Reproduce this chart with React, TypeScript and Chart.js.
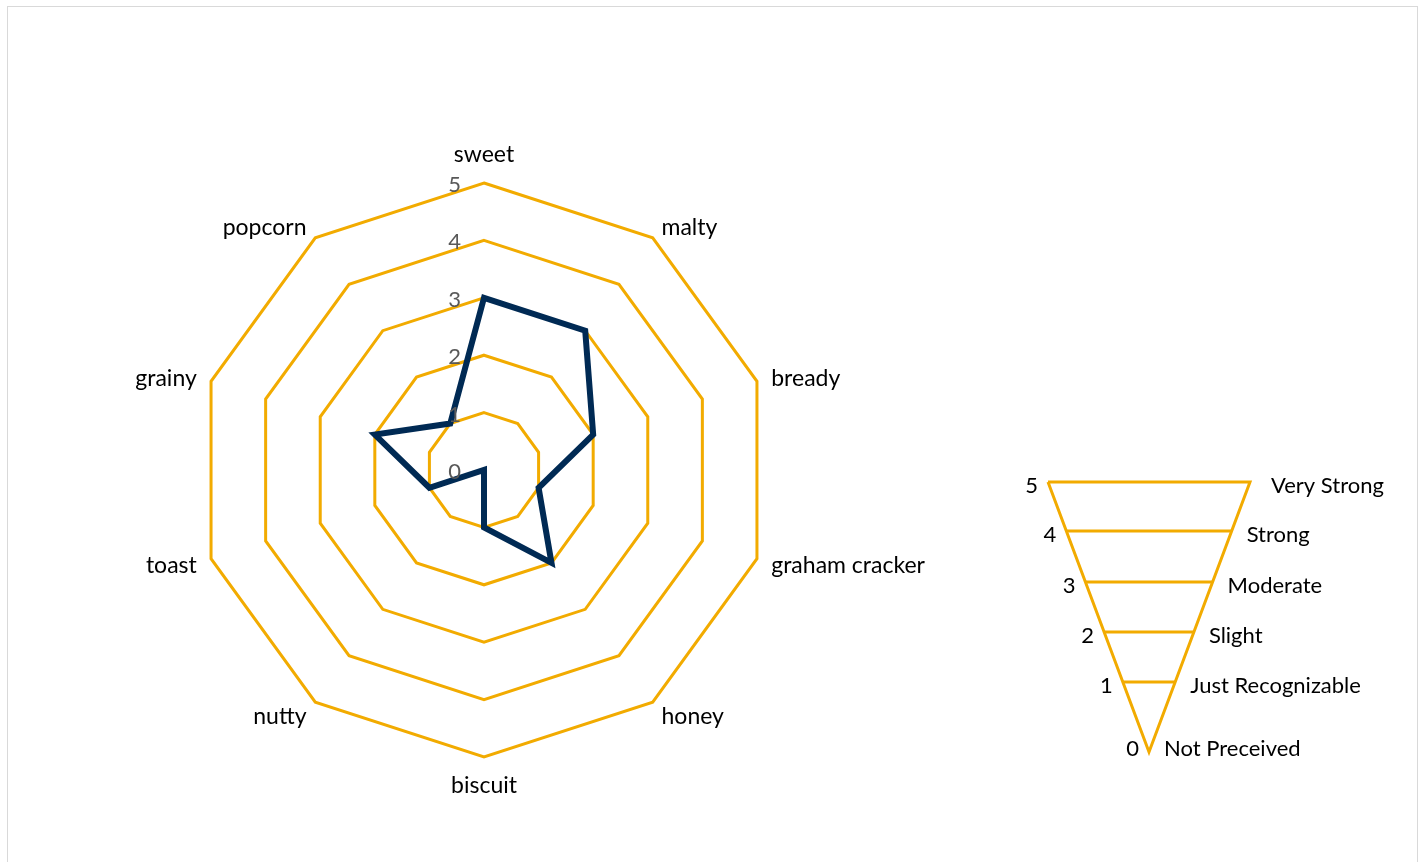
import React, { useEffect, useRef } from "react";
import { Chart, registerables } from "chart.js";

Chart.register(...registerables);

const categories = [
  "sweet",
  "malty",
  "bready",
  "graham cracker",
  "honey",
  "biscuit",
  "nutty",
  "toast",
  "grainy",
  "popcorn",
];
const seriesValues = [3, 3, 2, 1, 2, 1, 0, 1, 2, 1];
const radarTicks = [0, 1, 2, 3, 4, 5];

const funnelLevels = [0, 1, 2, 3, 4, 5];
const funnelNames = [
  "Not Preceived",
  "Just Recognizable",
  "Slight",
  "Moderate",
  "Strong",
  "Very Strong",
];
// vertical placement of each level line inside the funnel legend
const funnelHeights = [0, 1.4, 2.4, 3.4, 4.42, 5.4];

const GOLD = "#F2AB00";
const NAVY = "#002A54";
const FONT = "Lato, 'Open Sans', sans-serif";

const radarLabelsPlugin = {
  id: "radarLabels",
  afterDatasetsDraw(chart: any) {
    const scale = chart.scales.r;
    const ctx = chart.ctx;
    ctx.save();
    // point labels
    ctx.font = `23px ${FONT}`;
    ctx.fillStyle = "#000000";
    ctx.textBaseline = "middle";
    const n = categories.length;
    categories.forEach((label, i) => {
      const p = scale.getPointPosition(i, scale.drawingArea + 15);
      let x = p.x;
      let y = p.y;
      if (i === 0) {
        ctx.textAlign = "center";
        y -= 13;
      } else if (i * 2 === n) {
        ctx.textAlign = "center";
        y += 14;
      } else if (i < n / 2) {
        ctx.textAlign = "left";
        y += 2;
      } else {
        ctx.textAlign = "right";
        y += 2;
      }
      ctx.fillText(label, x, y);
    });
    // tick labels
    ctx.font = `22px ${FONT}`;
    ctx.fillStyle = "#595959";
    ctx.textAlign = "right";
    radarTicks.forEach((v) => {
      const d = scale.getDistanceFromCenterForValue(v);
      ctx.fillText(String(v), scale.xCenter - 23, scale.yCenter - d + 2);
    });
    ctx.restore();
  },
};

const funnelLabelsPlugin = {
  id: "funnelLabels",
  afterDatasetsDraw(chart: any) {
    const xs = chart.scales.x;
    const ys = chart.scales.y;
    const ctx = chart.ctx;
    const top = funnelHeights[funnelHeights.length - 1];
    ctx.save();
    ctx.font = `22px ${FONT}`;
    ctx.textBaseline = "middle";
    funnelLevels.forEach((lvl, i) => {
      const h = funnelHeights[i];
      const half = h / top;
      const y = ys.getPixelForValue(h) + (i === 0 ? -3 : 4);
      const xl = xs.getPixelForValue(-half);
      const xr = xs.getPixelForValue(half);
      ctx.fillStyle = "#000000";
      ctx.textAlign = "right";
      ctx.fillText(String(lvl), xl - 10, y);
      ctx.textAlign = "left";
      ctx.fillText(funnelNames[i], xr + (i === funnelLevels.length - 1 ? 21 : 15), y);
    });
    ctx.restore();
  },
};

function RadarChart() {
  const ref = useRef<HTMLCanvasElement>(null);
  useEffect(() => {
    const chart = new Chart(ref.current as HTMLCanvasElement, {
      type: "radar",
      data: {
        labels: categories,
        datasets: [
          {
            label: "Flavor",
            data: seriesValues,
            borderColor: NAVY,
            borderWidth: 6,
            backgroundColor: "rgba(0,0,0,0)",
            fill: false,
            pointRadius: 0,
            pointHoverRadius: 0,
            borderJoinStyle: "miter",
            tension: 0,
          },
        ],
      },
      options: {
        animation: false,
        responsive: false,
        maintainAspectRatio: false,
        layout: { padding: { left: 197, top: 183, right: 229, bottom: 105 } },
        plugins: { legend: { display: false }, tooltip: { enabled: false } },
        scales: {
          r: {
            min: 0,
            max: 5,
            beginAtZero: true,
            ticks: { display: false, stepSize: 1 },
            pointLabels: { display: false },
            angleLines: { display: false },
            grid: { color: GOLD, lineWidth: 3, circular: false },
          },
        },
      } as any,
      plugins: [radarLabelsPlugin],
    });
    return () => chart.destroy();
  }, []);
  return (
    <canvas
      ref={ref}
      width={1000}
      height={862}
      style={{ position: "absolute", left: 0, top: 0, width: 1000, height: 862 }}
    />
  );
}

function FunnelChart() {
  const ref = useRef<HTMLCanvasElement>(null);
  useEffect(() => {
    const top = funnelHeights[funnelHeights.length - 1];
    const outline = [
      { x: -1, y: top },
      { x: 1, y: top },
      { x: 0, y: 0 },
      { x: -1, y: top },
    ];
    const levelLines = funnelHeights.slice(1, -1).map((h) => ({
      label: "level",
      data: [
        { x: -h / top, y: h },
        { x: h / top, y: h },
      ],
      showLine: true,
      borderColor: GOLD,
      borderWidth: 3,
      pointRadius: 0,
      clip: false,
    }));
    const chart = new Chart(ref.current as HTMLCanvasElement, {
      type: "scatter",
      data: {
        datasets: [
          {
            label: "outline",
            data: outline,
            showLine: true,
            borderColor: GOLD,
            borderWidth: 3,
            pointRadius: 0,
            borderJoinStyle: "miter",
            clip: false,
          } as any,
          ...(levelLines as any[]),
        ],
      },
      options: {
        animation: false,
        responsive: false,
        maintainAspectRatio: false,
        layout: { padding: { left: 48, top: 42, right: 174, bottom: 48 } },
        plugins: { legend: { display: false }, tooltip: { enabled: false } },
        scales: {
          x: { type: "linear", min: -1, max: 1, display: false },
          y: { type: "linear", min: 0, max: top, display: false },
        },
      } as any,
      plugins: [funnelLabelsPlugin],
    });
    return () => chart.destroy();
  }, []);
  return (
    <canvas
      ref={ref}
      width={424}
      height={360}
      style={{ position: "absolute", left: 1000, top: 440, width: 424, height: 360 }}
    />
  );
}

export default function App() {
  return (
    <div
      style={{
        position: "absolute",
        left: 0,
        top: 0,
        width: 1424,
        height: 862,
        overflow: "hidden",
        background: "#ffffff",
      }}
    >
      <div
        style={{
          position: "absolute",
          left: 7,
          top: 6,
          width: 1409,
          height: 900,
          border: "1px solid #D9D9D9",
        }}
      />
      <RadarChart />
      <FunnelChart />
    </div>
  );
}
